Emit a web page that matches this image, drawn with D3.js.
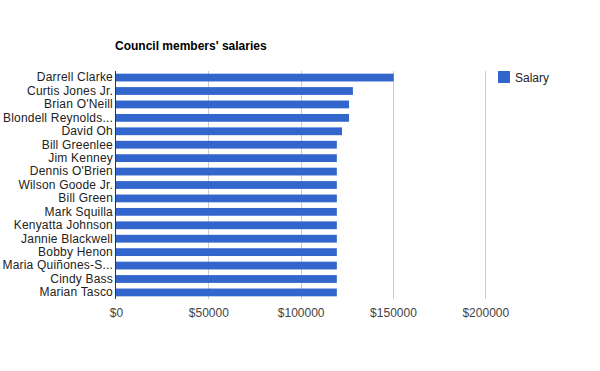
<!DOCTYPE html>
<html>
<head>
<meta charset="utf-8">
<script src="https://cdn.jsdelivr.net/npm/d3@7"></script>
<style>
  body { margin: 0; background: #fff; }
  svg { display: block; font-family: Arial, "Liberation Sans", sans-serif; }
</style>
</head>
<body>
<div id="chart"></div>
<script>
var members = ["Darrell Clarke", "Curtis Jones Jr.", "Brian O'Neill", "Blondell Reynolds...",
    "David Oh", "Bill Greenlee", "Jim Kenney", "Dennis O'Brien", "Wilson Goode Jr.",
    "Bill Green", "Mark Squilla", "Kenyatta Johnson", "Jannie Blackwell", "Bobby Henon",
    "Maria Quiñones-S...", "Cindy Bass", "Marian Tasco"];
var salaries = [150400, 128300, 126200, 126200,
    122400, 119600, 119600, 119600, 119600,
    119600, 119600, 119600, 119600, 119600,
    119600, 119600, 119600];
var xTicks = [0, 50000, 100000, 150000, 200000];
var seriesName = "Salary";
var chartTitle = "Council members' salaries";

function drawSalaryChart() {
    var container = d3.select("#chart");
    container.selectAll("*").remove();

    var W = 600, H = 371;
    var margin = {top: 71, right: 115, bottom: 72, left: 116};

    var svg = container.append("svg")
        .attr("width", W)
        .attr("height", H);

    var g = svg.append("g")
        .attr("transform", "translate(" + margin.left + "," + margin.top + ")");

    var data = members.map(function(d, i) { return {name: d, salary: salaries[i]}; });

    var x = d3.scaleLinear()
        .domain([0, d3.max(xTicks)])
        .range([0, 369.3]);

    var y = d3.scaleBand()
        .domain(members)
        .range([0, 228])
        .paddingInner(0.42)
        .paddingOuter(0.2);

    // gridlines
    g.append("g")
        .selectAll("line")
        .data(xTicks.slice(1))
        .enter().append("line")
        .attr("x1", function(d) { return Math.round(x(d)) + 0.5; })
        .attr("x2", function(d) { return Math.round(x(d)) + 0.5; })
        .attr("y1", 0)
        .attr("y2", 228)
        .attr("stroke", "#cccccc");

    // bottom tick labels
    var xAxis = g.append("g")
        .attr("transform", "translate(0,228)")
        .call(d3.axisBottom(x).tickValues(xTicks).tickSize(0).tickPadding(9)
            .tickFormat(function(d) { return "$" + d; }));
    xAxis.select(".domain").remove();
    xAxis.selectAll("text")
        .style("font-size", "12px")
        .style("font-family", "Arial, 'Liberation Sans', sans-serif")
        .attr("fill", "#444");

    g.selectAll(".bar")
        .data(data)
        .enter().append("rect")
        .attr("class", "bar")
        .attr("x", 0)
        .attr("y", function(d) { return y(d.name); })
        .attr("width", function(d) { return x(d.salary); })
        .attr("height", y.bandwidth())
        .attr("fill", "#3366cc");

    // left axis labels
    var yAxis = g.append("g")
        .call(d3.axisLeft(y).tickSize(0).tickPadding(3));
    yAxis.select(".domain").remove();
    yAxis.selectAll("text")
        .style("font-size", "12px")
        .style("font-family", "Arial, 'Liberation Sans', sans-serif")
        .style("letter-spacing", "0.2px")
        .attr("fill", "#222");

    g.append("line")
        .attr("x1", -0.5).attr("x2", -0.5)
        .attr("y1", 0).attr("y2", 228)
        .attr("stroke", "#333");

    svg.append("text")
        .attr("x", 115)
        .attr("y", 50)
        .style("font-size", "12px")
        .style("font-weight", "bold")
        .attr("fill", "#000")
        .text(chartTitle);

    var legend = svg.append("g").attr("transform", "translate(498,71)");
    legend.append("rect")
        .attr("width", 12).attr("height", 12)
        .attr("fill", "#3366cc");
    legend.append("text")
        .attr("x", 17)
        .attr("y", 10.5)
        .style("font-size", "12px")
        .attr("fill", "#222")
        .text(seriesName);
}

drawSalaryChart();
</script>
</body>
</html>
